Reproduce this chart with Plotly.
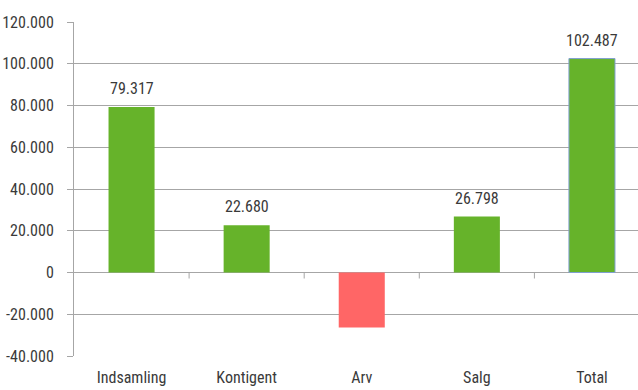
import plotly.graph_objects as go

# Fundraising breakdown (DKK)
categories = ["Indsamling", "Kontigent", "Arv", "Salg", "Total"]
values = [79317, 22680, -26308, 26798, 102487]
bar_labels = ["79.317", "22.680", "", "26.798", "102.487"]

y_tick_values = [-40000, -20000, 0, 20000, 40000, 60000, 80000, 100000, 120000]
y_tick_labels = ["-40.000", "-20.000", "0", "20.000", "40.000", "60.000",
                 "80.000", "100.000", "120.000"]

GREEN = "#66b32a"
RED = "#ff6666"
FONT = "Roboto Condensed, Liberation Sans Narrow, sans-serif"
TEXT = "#3a3a3a"
GRID = "#a6a6a6"

colors = [RED if v < 0 else GREEN for v in values]
outline = ["#7f9fd0" if c == "Total" else "rgba(0,0,0,0)" for c in categories]

fig = go.Figure(go.Bar(
    x=categories,
    y=values,
    marker=dict(color=colors, line=dict(color=outline, width=1)),
    hoverinfo="skip",
))

for cat, val, lab in zip(categories, values, bar_labels):
    if lab:
        fig.add_annotation(x=cat, y=val, text=lab, showarrow=False,
                           yanchor="bottom", yshift=7,
                           font=dict(family=FONT, size=16, color=TEXT))

# short tick marks below the zero line at category boundaries
for i in range(len(categories) - 1):
    fig.add_shape(type="line", xref="x", yref="y",
                  x0=i + 0.5, x1=i + 0.5,
                  ysizemode="pixel", yanchor=0, y0=0, y1=-6,
                  line=dict(color=GRID, width=1))

fig.update_layout(
    width=638, height=390,
    margin=dict(l=74, r=0, t=22, b=34),
    paper_bgcolor="white", plot_bgcolor="white",
    bargap=0.6,
    showlegend=False,
    font=dict(family=FONT, size=16, color=TEXT),
)
fig.update_xaxes(
    range=[-0.5, 4.4],
    showgrid=False, showline=False, ticks="",
    tickfont=dict(family=FONT, size=16, color=TEXT),
    ticklabelstandoff=10,
)
fig.update_yaxes(
    range=[-40000, 120000],
    tickvals=y_tick_values, ticktext=y_tick_labels,
    showgrid=True, gridcolor=GRID, gridwidth=1,
    zeroline=True, zerolinecolor=GRID, zerolinewidth=1,
    showline=True, linecolor=GRID, linewidth=1,
    ticks="outside", ticklen=6, tickcolor=GRID,
    tickfont=dict(family=FONT, size=16, color=TEXT),
    ticklabelstandoff=10,
)

fig.write_html("out.html")
